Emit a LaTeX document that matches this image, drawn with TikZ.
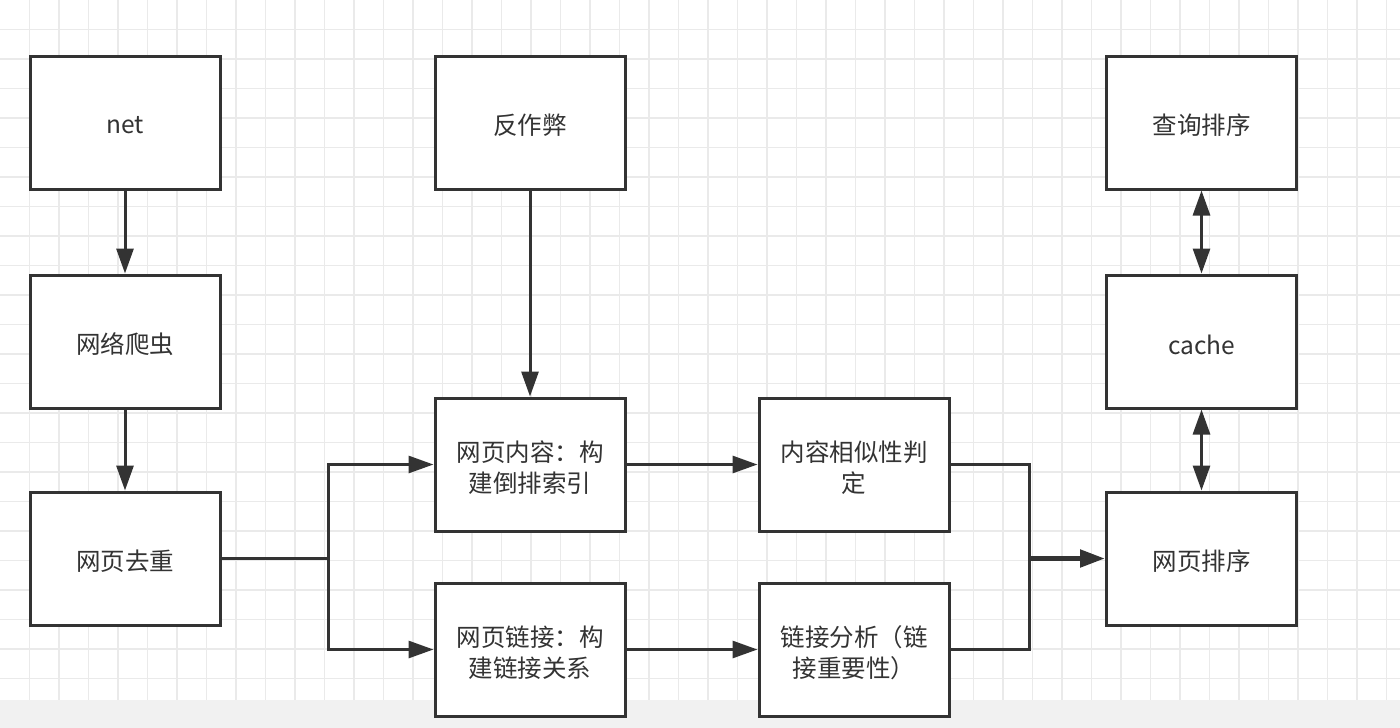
\documentclass[tikz,border=0pt]{standalone}
\usepackage{fontspec}
\setmainfont{Noto Sans CJK SC}
\usetikzlibrary{arrows.meta}
\definecolor{ink}{HTML}{333333}
\definecolor{gridc}{HTML}{EAEAEA}
\definecolor{stripc}{HTML}{F1F1F1}
\tikzset{
  boxtext/.style={text=ink, align=center, inner sep=0pt, yshift=-3pt, font=\fontsize{24.5}{31}\selectfont},
  box/.style={draw=ink, line width=3pt, fill=white, minimum width=190pt, minimum height=133pt,
    inner sep=0pt, label={[boxtext]center:{#1}}},
  conn/.style={draw=ink, line width=3pt},
  arr/.style={conn, -{Triangle[length=25pt,width=17pt]}},
  darr/.style={conn, {Triangle[length=25pt,width=17pt]}-{Triangle[length=25pt,width=17pt]}},
  thickarr/.style={draw=ink, line width=5pt, -{Triangle[length=25pt,width=17pt]}}
}
\begin{document}
\begin{tikzpicture}[x=1pt,y=-1pt]
\useasboundingbox (0,0) rectangle (1400,728);
\fill[white] (0,0) rectangle (1400,700);
\foreach \k in {1,...,47} {\draw[gridc, line width=1.5pt] (29.5*\k,0) -- (29.5*\k,700);}
\foreach \k in {1,...,23} {\draw[gridc, line width=1.5pt] (0,29.5*\k) -- (1400,29.5*\k);}
\fill[stripc] (0,700) rectangle (1400,728);

\node[box={net}] (net) at (125,122.5) {};
\node[box={网络爬虫}] (crawl) at (125,341.5) {};
\node[box={网页去重}] (dedup) at (125,558.5) {};
\node[box={反作弊}] (anti) at (530,122.5) {};
\node[box={网页内容：构\\建倒排索引}] (content) at (530,464.5) {};
\node[box={网页链接：构\\建链接关系}] (link) at (530,649.5) {};
\node[box={内容相似性判\\定}] (sim) at (854,464.5) {};
\node[box={链接分析（链\\接重要性）}] (ana) at (854,649.5) {};
\node[box={查询排序}] (query) at (1201.5,122.5) {};
\node[box={cache}] (cache) at (1201.5,341.5) {};
\node[box={网页排序}] (rank) at (1201.5,558.5) {};

\coordinate (split) at (328,558.5);
\coordinate (join) at (1029,558.5);

\draw[arr] (net) -- (crawl);
\draw[arr] (crawl) -- (dedup);
\draw[conn] (dedup.east) -- (split);
\draw[arr] (split) |- (content.west);
\draw[arr] (split) |- (link.west);
\draw[arr] (anti) -- (content);
\draw[arr] (content) -- (sim);
\draw[arr] (link) -- (ana);
\draw[conn] (sim.east) -| (join);
\draw[conn] (ana.east) -| (join);
\draw[thickarr] (join) -- (rank.west);
\draw[darr] (query) -- (cache);
\draw[darr] (cache) -- (rank);
\end{tikzpicture}
\end{document}
